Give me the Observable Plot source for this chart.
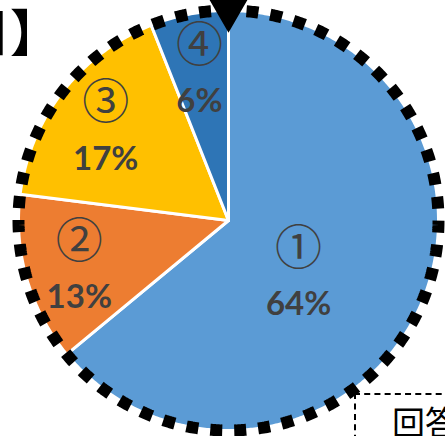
<!DOCTYPE html>
<html>
<head>
<meta charset="utf-8">
<script src="https://cdn.jsdelivr.net/npm/d3@7"></script>
<script src="https://cdn.jsdelivr.net/npm/@observablehq/plot@0.6"></script>
<style>
  html, body { margin: 0; padding: 0; background: #fff; }
  #wrap { position: relative; width: 445px; height: 436px; overflow: hidden; }
  #title { position: absolute; left: -40px; top: -1px; font-family: "Noto Sans CJK JP", sans-serif; font-weight: bold; font-size: 50px; line-height: 60px; color: #000; white-space: nowrap; }
  #note { position: absolute; left: 354px; top: 393px; width: 200px; height: 100px; border: 2px dashed #000; box-sizing: border-box; font-family: "Noto Sans CJK JP", sans-serif; font-size: 33px; line-height: 33px; color: #000; padding: 10px 0 0 36px; white-space: nowrap; background: #fff; }
  #chart { position: absolute; left: 0; top: 0; }
</style>
</head>
<body>
<div id="wrap">
  <div id="chart"></div>
  <div id="title">目】</div>
  <div id="note">回答者数</div>
</div>
<script>
const categories = ["①", "②", "③", "④"];
const values = [64, 13, 17, 6];
const valueLabels = ["64%", "13%", "17%", "6%"];
const colors = ["#5B9BD5", "#ED7D31", "#FFC000", "#2E75B6"];

const W = 445, H = 436, cx = 228, cy = 220, R = 210;

const data = categories.map((c, i) => ({ key: c, value: values[i], label: valueLabels[i], color: colors[i] }));
const arcs = d3.pie().sort(null).value(d => d.value).startAngle(0).endAngle(2 * Math.PI)(data);
const total = d3.sum(values);

// polygon points for each slice (center + arc samples)
const slicePts = [];
arcs.forEach(a => {
  slicePts.push({ key: a.data.key, color: a.data.color, x: 0, y: 0 });
  const n = Math.max(2, Math.ceil((a.endAngle - a.startAngle) / (Math.PI / 360)));
  for (let k = 0; k <= n; k++) {
    const t = a.startAngle + (a.endAngle - a.startAngle) * k / n;
    slicePts.push({ key: a.data.key, color: a.data.color, x: Math.sin(t), y: Math.cos(t) });
  }
});

// outline ring
const ring = d3.range(0, 721).map(k => {
  const t = k / 720 * 2 * Math.PI;
  return { x: Math.sin(t), y: Math.cos(t) };
});

// label anchors
const labelPts = arcs.map(a => {
  const frac = a.data.value / total;
  let mid = (a.startAngle + a.endAngle) / 2;
  let r = 0.74;
  if (frac > 0.5) { r = 0.41; mid += 0.18; }
  return { ...a.data, x: r * Math.sin(mid), y: r * Math.cos(mid) };
});

const chart = Plot.plot({
  width: W,
  height: H,
  margin: 0,
  x: { domain: [-cx / R, (W - cx) / R], axis: null },
  y: { domain: [-(H - cy) / R, cy / R], axis: null },
  marks: [
    Plot.line(slicePts, { x: "x", y: "y", z: "key", fill: "color", stroke: "#fff", strokeWidth: 3, curve: "linear-closed", strokeLinejoin: "round" }),
    Plot.line(ring, { x: "x", y: "y", stroke: "#000", strokeWidth: 12, strokeDasharray: "12,12", strokeDashoffset: 6, strokeLinecap: "butt", strokeLinejoin: "miter" }),
    Plot.dot([{ x: 0, y: 1 }], { x: "x", y: "y", symbol: "triangle", rotate: 180, r: 13, fill: "#000", stroke: "#000", strokeWidth: 2 }),
    Plot.text(labelPts, { x: "x", y: "y", text: "key", dy: -22, fill: "#404040", fontSize: 47, fontFamily: "Noto Sans CJK JP" }),
    Plot.text(labelPts, { x: "x", y: "y", text: "label", dy: 34, fill: "#404040", fontSize: 33, fontWeight: "bold", fontFamily: "Lato" })
  ]
});
document.getElementById("chart").appendChild(chart);
</script>
</body>
</html>
